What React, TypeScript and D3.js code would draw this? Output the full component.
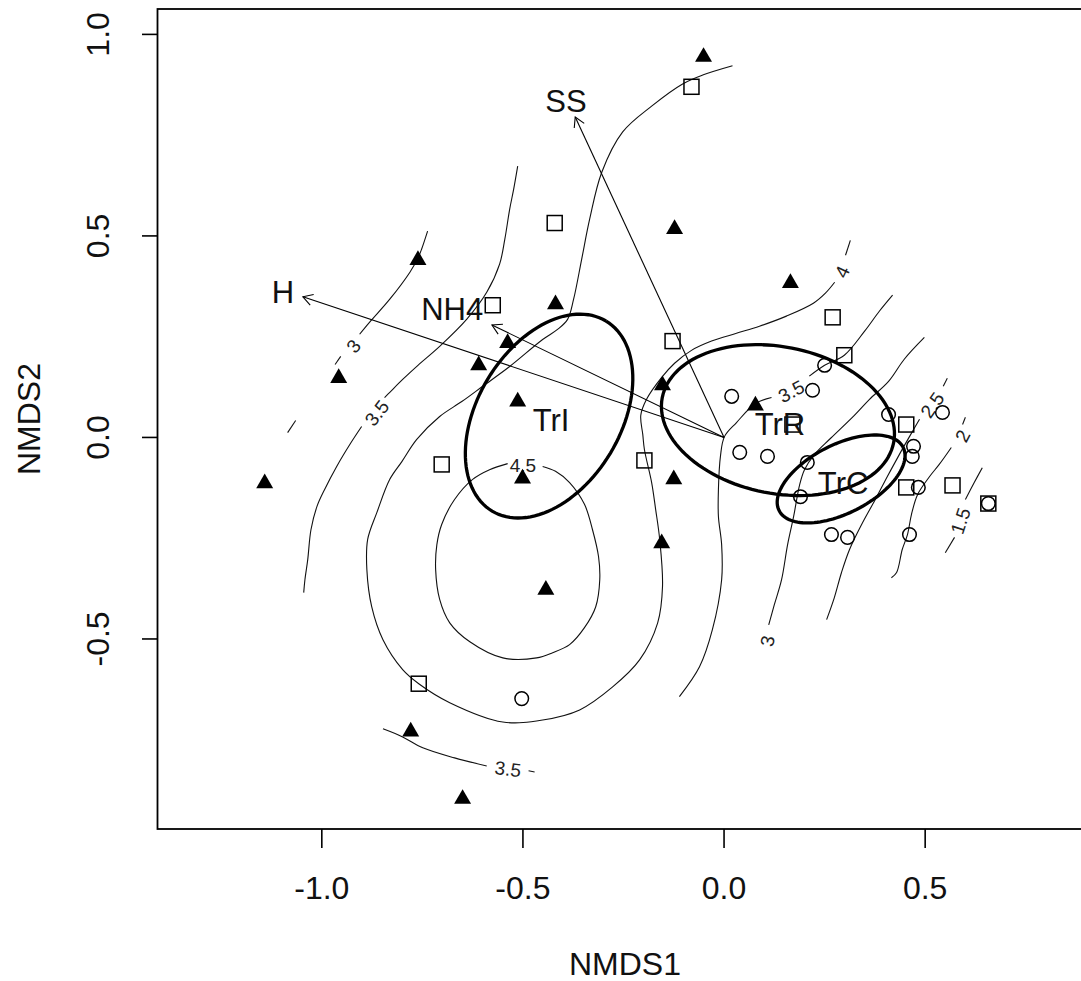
import React from 'react';
import * as d3 from 'd3';

type Pt = [number, number];

// Plot window (NMDS units) and axis ticks
const xLim: Pt = [-1.4085, 0.916];
const yLim: Pt = [-0.9715, 1.063];
const xTicks = [-1.0, -0.5, 0.0, 0.5];
const yTicks = [-0.5, 0.0, 0.5, 1.0];

// Site scores by symbol
const sitesTriangle: Pt[] = [
  [-0.051, 0.949], [-0.761, 0.445], [-0.419, 0.335], [-0.123, 0.522], [0.165, 0.388],
  [-0.958, 0.152], [-0.610, 0.184], [-0.538, 0.239], [-0.513, 0.094], [-0.153, 0.134],
  [0.078, 0.084], [-0.501, -0.097], [-0.125, -0.099], [-1.142, -0.109], [-0.155, -0.258],
  [-0.443, -0.373], [-0.779, -0.725], [-0.650, -0.892],
];
const sitesSquare: Pt[] = [
  [-0.081, 0.870], [-0.421, 0.532], [-0.575, 0.328], [-0.128, 0.239], [0.270, 0.298],
  [0.299, 0.204], [-0.702, -0.067], [-0.198, -0.057], [0.170, 0.032], [0.453, 0.032],
  [0.453, -0.124], [0.568, -0.119], [0.657, -0.164], [-0.759, -0.611],
];
const sitesCircle: Pt[] = [
  [0.019, 0.102], [0.220, 0.117], [0.250, 0.179], [0.039, -0.037], [0.108, -0.047],
  [0.207, -0.062], [0.190, -0.147], [0.409, 0.057], [0.543, 0.062], [0.471, -0.022],
  [0.468, -0.047], [0.483, -0.124], [0.657, -0.164], [0.461, -0.241], [0.267, -0.241],
  [0.307, -0.248], [-0.503, -0.648],
];

// Group ellipses
const groupNames = ['TrI', 'TrR', 'TrC'];
const groupCenters: Pt[] = [[-0.435, 0.053], [0.134, 0.043], [0.291, -0.103]];
const groupAxes: Pt[] = [[0.275, 0.178], [0.293, 0.182], [0.173, 0.085]];
const groupAngles = [59, -11, 27];

// Fitted environmental vectors
const envNames = ['H', 'NH4', 'SS'];
const envTips: Pt[] = [[-1.047, 0.349], [-0.577, 0.279], [-0.370, 0.795]];
const envLabelPos: Pt[] = [[-1.0965, 0.360], [-0.676, 0.319], [-0.393, 0.835]];

// Fitted surface isolines, split where their labels sit
const contour15: Pt[][] = [
  [[0.642, -0.075], [0.622, -0.112], [0.600, -0.154]],
  [[0.573, -0.248], [0.550, -0.286]],
];
const contour20: Pt[][] = [
  [[0.600, 0.050], [0.593, 0.032]],
  [[0.565, -0.025], [0.535, -0.067], [0.511, -0.097], [0.481, -0.142], [0.466, -0.191],
   [0.456, -0.241], [0.443, -0.278], [0.429, -0.335], [0.416, -0.348]],
];
const contour25: Pt[][] = [
  [[0.555, 0.147], [0.545, 0.127]],
  [[0.486, 0.045], [0.461, 0.002], [0.436, -0.042], [0.406, -0.097], [0.376, -0.154],
   [0.342, -0.216], [0.312, -0.278], [0.292, -0.335], [0.274, -0.398], [0.255, -0.452]],
];
const contour30: Pt[][] = [
  [[-0.737, 0.512], [-0.752, 0.467], [-0.761, 0.445], [-0.781, 0.410], [-0.831, 0.343],
   [-0.881, 0.286], [-0.906, 0.256]],
  [[-0.953, 0.201], [-0.967, 0.181]],
  [[-1.065, 0.042], [-1.085, 0.012]],
  [[0.498, 0.248], [0.448, 0.194], [0.409, 0.139], [0.361, 0.094], [0.324, 0.055],
   [0.265, -0.002], [0.225, -0.042], [0.200, -0.080], [0.188, -0.117], [0.173, -0.196],
   [0.158, -0.266], [0.143, -0.353], [0.125, -0.415], [0.111, -0.465]],
];
const contour35: Pt[][] = [
  [[-0.513, 0.673], [-0.523, 0.616], [-0.533, 0.566], [-0.545, 0.492], [-0.558, 0.430],
   [-0.590, 0.360], [-0.640, 0.293], [-0.707, 0.226], [-0.761, 0.179], [-0.799, 0.144],
   [-0.831, 0.112], [-0.844, 0.099]],
  [[-0.901, 0.027], [-0.930, -0.017], [-0.963, -0.072], [-0.993, -0.129], [-1.012, -0.171],
   [-1.027, -0.229], [-1.035, -0.303], [-1.042, -0.353], [-1.045, -0.385]],
  [[-0.848, -0.723], [-0.799, -0.743], [-0.749, -0.770], [-0.670, -0.795], [-0.590, -0.815]],
  [[-0.486, -0.827], [-0.471, -0.830]],
  [[0.419, 0.353], [0.386, 0.313], [0.349, 0.263], [0.299, 0.204], [0.250, 0.179], [0.212, 0.152]],
  [[0.118, 0.099], [0.078, 0.084], [0.031, 0.037], [0.001, 0.002], [-0.009, -0.047],
   [-0.014, -0.129], [-0.014, -0.196], [-0.006, -0.266], [-0.006, -0.353], [-0.029, -0.477],
   [-0.061, -0.569], [-0.111, -0.643]],
];
const contour40: Pt[][] = [
  [[0.314, 0.489], [0.302, 0.452]],
  [[0.275, 0.385], [0.252, 0.358], [0.222, 0.333], [0.155, 0.301], [0.088, 0.276],
   [0.029, 0.258], [-0.031, 0.239], [-0.081, 0.216], [-0.123, 0.184], [-0.155, 0.149],
   [-0.193, 0.094], [-0.207, 0.055], [-0.202, 0.007], [-0.198, -0.030], [-0.180, -0.112],
   [-0.170, -0.179], [-0.160, -0.253], [-0.153, -0.370], [-0.165, -0.460], [-0.210, -0.552],
   [-0.277, -0.619], [-0.359, -0.676], [-0.451, -0.701], [-0.550, -0.706], [-0.682, -0.658],
   [-0.759, -0.611], [-0.799, -0.576], [-0.848, -0.502], [-0.876, -0.420], [-0.888, -0.328],
   [-0.886, -0.253], [-0.863, -0.186], [-0.831, -0.104], [-0.801, -0.060], [-0.764, -0.005],
   [-0.707, 0.052], [-0.652, 0.089], [-0.600, 0.127], [-0.533, 0.176], [-0.451, 0.243],
   [-0.414, 0.268], [-0.389, 0.293], [-0.374, 0.343], [-0.354, 0.442], [-0.334, 0.542],
   [-0.304, 0.658], [-0.252, 0.758], [-0.180, 0.822], [-0.103, 0.877], [-0.053, 0.899],
   [0.021, 0.922]],
];
const contour45: Pt[][] = [
  [[-0.451, -0.072], [-0.419, -0.084], [-0.384, -0.112], [-0.347, -0.166], [-0.327, -0.229],
   [-0.312, -0.296], [-0.309, -0.353], [-0.319, -0.420], [-0.347, -0.472], [-0.384, -0.514],
   [-0.426, -0.534], [-0.466, -0.547], [-0.550, -0.547], [-0.632, -0.507], [-0.682, -0.460],
   [-0.707, -0.402], [-0.717, -0.328], [-0.714, -0.266], [-0.702, -0.216], [-0.670, -0.154],
   [-0.625, -0.104], [-0.583, -0.080], [-0.538, -0.065]],
];
const contourSets: Pt[][][] = [contour15, contour20, contour25, contour30, contour35, contour40, contour45];

// Isoline labels: text, position, rotation along the line
const contourLabelText = ['3', '3.5', '4.5', '3.5', '4', '3.5', '3', '2.5', '2', '1.5'];
const contourLabelPos: Pt[] = [
  [-0.922, 0.227], [-0.864, 0.061], [-0.500, -0.068], [-0.537, -0.822], [0.293, 0.411],
  [0.167, 0.115], [0.107, -0.505], [0.517, 0.081], [0.592, 0.004], [0.587, -0.207],
];
const contourLabelAngle = [-50, -52, 0, 7, -65, -28, -79, -55, -62, -72];

const FONT = 'Liberation Sans, Arial, Helvetica, sans-serif';

export default function App() {
  const x = d3.scaleLinear().domain(xLim).range([157.5, 1092.5]);
  const y = d3.scaleLinear().domain(yLim).range([829, 9]);
  const iso = d3.line<Pt>().x(d => x(d[0])).y(d => y(d[1])).curve(d3.curveCatmullRom.alpha(0.5));
  const closed = d3.line<Pt>().x(d => x(d[0])).y(d => y(d[1]));
  const tri = d3.symbol(d3.symbolTriangle, 125)() as string;

  const ellipsePts = (c: Pt, ax: Pt, deg: number): Pt[] => {
    const th = (deg * Math.PI) / 180;
    return d3.range(0, 361, 3).map(t => {
      const r = (t * Math.PI) / 180;
      const u = ax[0] * Math.cos(r);
      const v = ax[1] * Math.sin(r);
      return [c[0] + u * Math.cos(th) - v * Math.sin(th), c[1] + u * Math.sin(th) + v * Math.cos(th)] as Pt;
    });
  };

  const ox = x(0);
  const oy = y(0);
  const head = 11;
  const arrows = envTips.map((tip, i) => {
    const tx = x(tip[0]);
    const ty = y(tip[1]);
    const ang = Math.atan2(ty - oy, tx - ox);
    const a1 = ang + Math.PI - Math.PI / 6;
    const a2 = ang + Math.PI + Math.PI / 6;
    return (
      <g key={envNames[i]}>
        <line x1={ox} y1={oy} x2={tx} y2={ty} stroke="#000" strokeWidth={1.1} />
        <polyline
          points={`${tx + head * Math.cos(a1)},${ty + head * Math.sin(a1)} ${tx},${ty} ${tx + head * Math.cos(a2)},${ty + head * Math.sin(a2)}`}
          fill="none" stroke="#000" strokeWidth={1.1} />
      </g>
    );
  });

  return (
    <svg width={1081} height={981} viewBox="0 0 1081 981"
      style={{ position: 'absolute', left: 0, top: 0, background: '#fff' }}
      fontFamily={FONT}>
      <rect x={0} y={0} width={1081} height={981} fill="#fff" />

      {/* isolines */}
      <g fill="none" stroke="#111" strokeWidth={1.1}>
        {contourSets.map((set, i) => set.map((seg, j) => (
          <path key={`c${i}-${j}`} d={iso(seg) as string} />
        )))}
      </g>
      <g fontSize={19} fill="#222" textAnchor="middle">
        {contourLabelText.map((t, i) => (
          <text key={`cl${i}`} transform={`translate(${x(contourLabelPos[i][0])},${y(contourLabelPos[i][1])}) rotate(${contourLabelAngle[i]})`} dy={7}>{t}</text>
        ))}
      </g>

      {/* group ellipses */}
      <g fill="none" stroke="#000" strokeWidth={3.3}>
        {groupNames.map((g, i) => (
          <path key={g} d={closed(ellipsePts(groupCenters[i], groupAxes[i], groupAngles[i])) as string} />
        ))}
      </g>

      {/* environmental vectors */}
      {arrows}

      {/* sites */}
      <g fill="none" stroke="#000" strokeWidth={1.5}>
        {sitesSquare.map((d, i) => (
          <rect key={`s${i}`} x={x(d[0]) - 7.5} y={y(d[1]) - 7.5} width={15} height={15} />
        ))}
        {sitesCircle.map((d, i) => (
          <circle key={`o${i}`} cx={x(d[0])} cy={y(d[1])} r={6.8} />
        ))}
      </g>
      <g fill="#000">
        {sitesTriangle.map((d, i) => (
          <path key={`t${i}`} d={tri} transform={`translate(${x(d[0])},${y(d[1]) + 2})`} />
        ))}
      </g>

      {/* labels */}
      <g fontSize={31} fill="#111" textAnchor="middle">
        {envNames.map((n, i) => (
          <text key={`el${n}`} x={x(envLabelPos[i][0])} y={y(envLabelPos[i][1])} dy={11}>{n}</text>
        ))}
        {groupNames.map((g, i) => (
          <text key={`gl${g}`} x={x(groupCenters[i][0]) + 2} y={y(groupCenters[i][1])} dy={15}>{g}</text>
        ))}
      </g>

      {/* axes box */}
      <rect x={157.5} y={9} width={935} height={820} fill="none" stroke="#000" strokeWidth={1.8} />
      <g stroke="#000" strokeWidth={1.6}>
        {xTicks.map(t => (
          <line key={`xt${t}`} x1={x(t)} x2={x(t)} y1={829} y2={848} />
        ))}
        {yTicks.map(t => (
          <line key={`yt${t}`} x1={142} x2={157.5} y1={y(t)} y2={y(t)} />
        ))}
      </g>
      <g fontSize={32} fill="#111" textAnchor="middle">
        {xTicks.map(t => (
          <text key={`xl${t}`} x={x(t)} y={898.5}>{t.toFixed(1)}</text>
        ))}
        {yTicks.map(t => (
          <text key={`yl${t}`} transform={`translate(108.5,${y(t)}) rotate(-90)`}>{t.toFixed(1)}</text>
        ))}
        <text x={625} y={975}>NMDS1</text>
        <text transform="translate(39.5,419) rotate(-90)">NMDS2</text>
      </g>
    </svg>
  );
}
